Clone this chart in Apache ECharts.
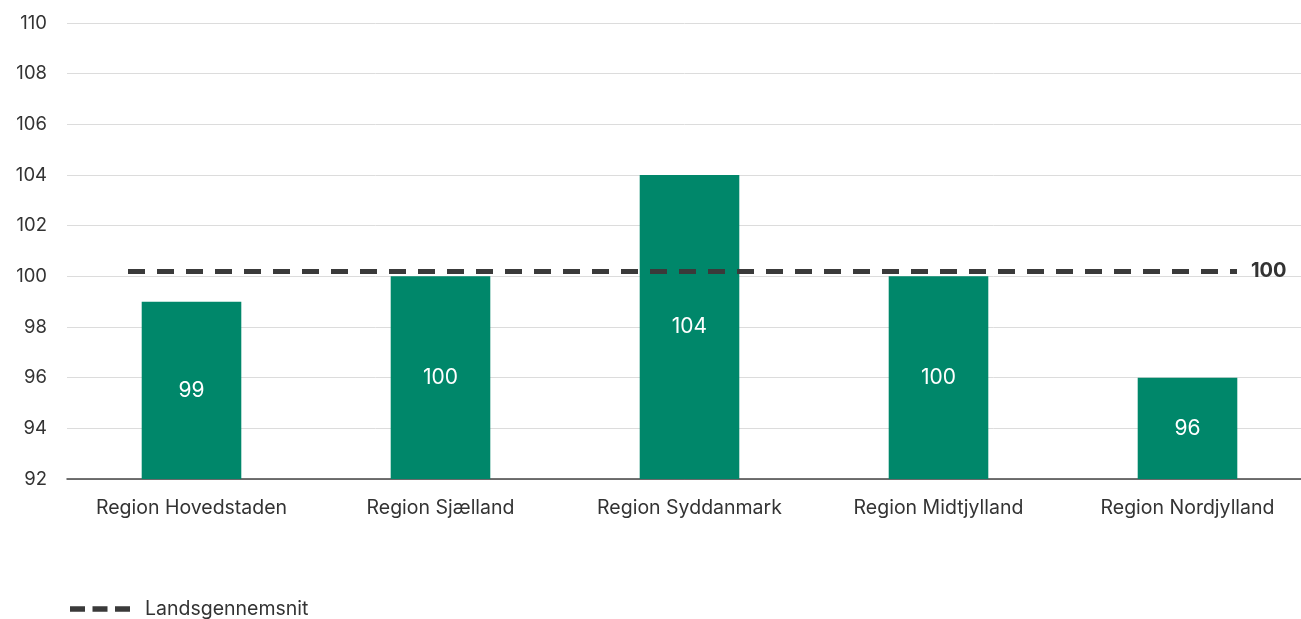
<!DOCTYPE html>
<html><head><meta charset="utf-8">
<script src="https://cdn.jsdelivr.net/npm/echarts@6/dist/echarts.min.js"></script>
<style>html,body{margin:0;padding:0;background:#fff}#c{width:1301px;height:619px}</style>
</head><body><div id="c"></div>
<script>
const categories = ['Region Hovedstaden', 'Region Sjælland', 'Region Syddanmark', 'Region Midtjylland', 'Region Nordjylland'];
const values = [99, 100, 104, 100, 96];
const averageName = 'Landsgennemsnit';
const averageValue = 100.2;
const averageLabel = '100';
const yTicks = { min: 92, max: 110, interval: 2 };

const chart = echarts.init(document.getElementById('c'));
const font = 'Inter, "Liberation Sans", sans-serif';
chart.setOption({
  animation: false,
  textStyle: { fontFamily: font },
  grid: { left: 67, width: 1245, top: 23, height: 456, outerBoundsMode: 'none', containLabel: false },
  legend: {
    left: 65, top: 594,
    itemWidth: 60, itemHeight: 10, itemGap: 20,
    textStyle: { fontSize: 19.5, color: '#333', fontFamily: font, padding: [0, 0, 0, 10] },
    data: [{ name: averageName, icon: 'path://M0,0 L14,0 L14,5 L0,5 Z M21,0 L35,0 L35,5 L21,5 Z M42,0 L56,0 L56,5 L42,5 Z', itemStyle: { color: '#3a3a3a' } }]
  },
  xAxis: {
    type: 'category', data: categories,
    axisTick: { show: false },
    axisLine: { lineStyle: { color: '#444', width: 1.5 } },
    axisLabel: { color: '#333', fontSize: 19.5, margin: 19, interval: 0, fontFamily: font }
  },
  yAxis: {
    type: 'value', min: yTicks.min, max: yTicks.max, interval: yTicks.interval,
    axisLabel: { color: '#333', fontSize: 18.5, margin: 20, fontFamily: font },
    splitLine: { lineStyle: { color: '#dcdcdc', width: 1 } },
    axisLine: { show: false }, axisTick: { show: false }
  },
  series: [
    {
      type: 'bar', name: 'Indeks', data: values, barWidth: '40%',
      itemStyle: { color: '#00876a' },
      label: { show: true, position: 'inside', color: '#fff', fontSize: 21, fontFamily: font }
    },
    {
      type: 'line', name: averageName, data: [], symbol: 'none',
      lineStyle: { color: '#3a3a3a', width: 5, type: [17, 12] },
      itemStyle: { color: '#3a3a3a' },
      markLine: {
        symbol: ['none', 'none'], silent: true,
        lineStyle: { color: '#3a3a3a', width: 5, type: [17, 12] },
        label: { show: true, position: 'end', formatter: averageLabel, color: '#333', fontSize: 20, fontWeight: 'bold', distance: 14, fontFamily: font },
        data: [[{ x: 128, yAxis: averageValue }, { x: 1237, yAxis: averageValue }]]
      }
    }
  ]
});
</script></body></html>
